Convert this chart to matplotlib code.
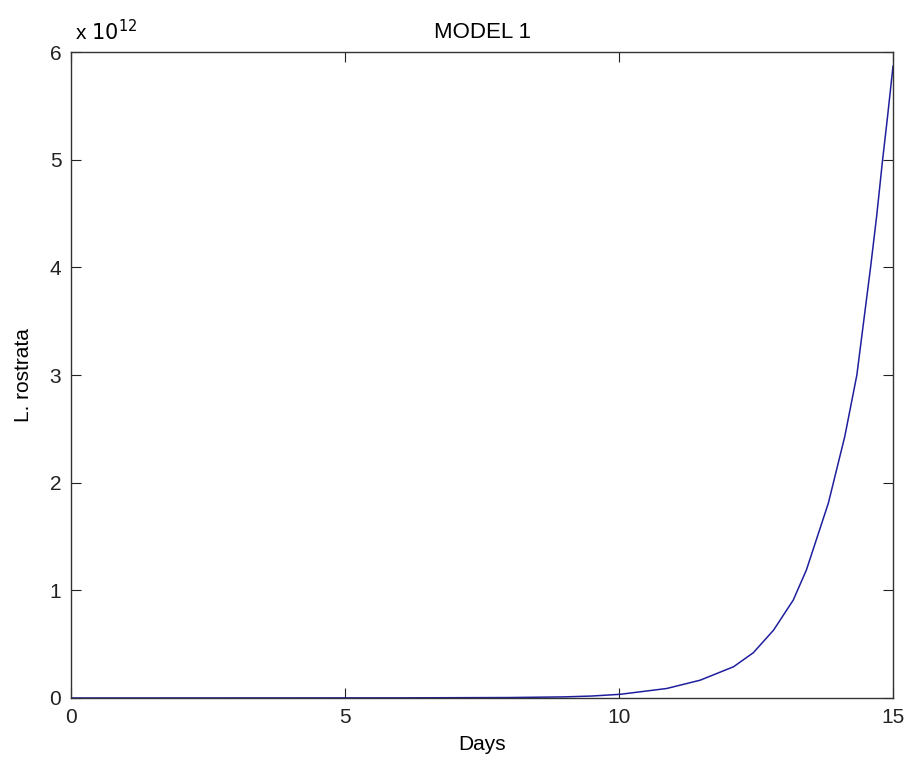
import matplotlib.pyplot as plt
from matplotlib.ticker import FuncFormatter

# values (days, population)
days = [0, 2, 4, 6, 8, 9, 9.5, 10.02, 10.87, 11.48, 12.09, 12.45, 12.82,
        13.18, 13.42, 13.82, 14.12, 14.34, 14.46, 14.59, 14.70, 14.81,
        14.90, 15]
pop = [0, 0.0002e12, 0.0005e12, 0.001e12, 0.004e12, 0.01e12, 0.018e12,
       0.034e12, 0.088e12, 0.165e12, 0.29e12, 0.42e12, 0.63e12,
       0.91e12, 1.19e12, 1.81e12, 2.43e12, 3.0e12, 3.48e12, 4.0e12,
       4.47e12, 5.0e12, 5.40e12, 5.87e12]

xticks = [0, 5, 10, 15]
yticks = [0, 1e12, 2e12, 3e12, 4e12, 5e12, 6e12]

plt.rcParams['font.family'] = ['Liberation Sans', 'DejaVu Sans']

fig = plt.figure(figsize=(9.08, 7.67), dpi=100)
ax = fig.add_axes([0.0782, 0.090, 0.9053, 0.842])

ax.plot(days, pop, color='#1f1f9e', linewidth=1.1)

ax.set_xlim(0, 15)
ax.set_ylim(0, 6e12)
ax.set_xticks(xticks)
ax.set_yticks(yticks)
ax.yaxis.set_major_formatter(FuncFormatter(lambda v, p: '%g' % (v / 1e12)))
ax.tick_params(direction='in', length=7, width=0.8, labelsize=15,
               top=True, right=True, pad=7, colors='#222222')
for s in ax.spines.values():
    s.set_linewidth(1.0)
    s.set_color('#333333')

ax.set_title('MODEL 1', fontsize=16, pad=10)
ax.set_xlabel('Days', fontsize=15, labelpad=6)
ax.set_ylabel('L. rostrata', fontsize=15, labelpad=12)
ax.text(0.005, 1.012, r'x $10^{12}$', transform=ax.transAxes,
        fontsize=15, ha='left', va='bottom')

fig.savefig('out.png', dpi=100)
